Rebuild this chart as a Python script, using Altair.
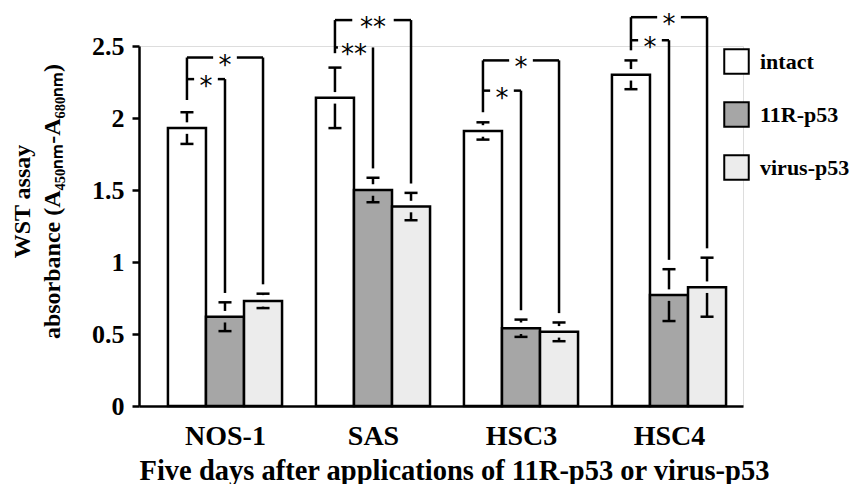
import altair as alt
import pandas as pd

# ---------------- data ----------------
groups = ["NOS-1", "SAS", "HSC3", "HSC4"]
series = ["intact", "11R-p53", "virus-p53"]

intact = [1.93, 2.14, 1.91, 2.30]
intact_err = [0.11, 0.21, 0.06, 0.10]
r11 = [0.62, 1.50, 0.54, 0.77]
r11_err = [0.10, 0.085, 0.06, 0.18]
virus = [0.73, 1.385, 0.515, 0.825]
virus_err = [0.05, 0.095, 0.065, 0.205]

# significance brackets (intact vs 11R-p53 = inner, intact vs virus-p53 = outer)
inner_top = [2.27, 2.49, 2.19, 2.54]
outer_top = [2.42, 2.68, 2.40, 2.70]
left_bottom = [2.125, 2.45, 2.04, 2.47]
inner_sig = ["*", "**", "*", "*"]
outer_sig = ["*", "**", "*", "*"]

y_ticks = [0, 0.5, 1, 1.5, 2, 2.5]

# ---------------- style constants ----------------
BW = 0.257        # bar width in group units
CAP = 0.044       # half width of error caps
GAP_ERR = 0.04    # gap between bar top and error whisker
GAP_BR = 0.065    # gap between error cap and bracket leg
FONT = "Liberation Serif"
fills = ["#ffffff", "#a6a6a6", "#ececec"]

means = [intact, r11, virus]
errs = [intact_err, r11_err, virus_err]

bar_rows, line_rows, text_rows = [], [], []
for i, g in enumerate(groups):
    for j, s in enumerate(series):
        c = i + (j - 1) * BW
        v = means[j][i]
        e = errs[j][i]
        bar_rows.append({"group": g, "series": s, "x0": c - BW / 2, "x1": c + BW / 2, "v": v, "zero": 0})
        if e > GAP_ERR:
            line_rows.append({"x": c, "x2": c, "y": v + GAP_ERR, "y2": v + e})
            line_rows.append({"x": c, "x2": c, "y": v - GAP_ERR, "y2": v - e})
        line_rows.append({"x": c - CAP, "x2": c + CAP, "y": v + e, "y2": v + e})
        line_rows.append({"x": c - CAP, "x2": c + CAP, "y": v - e, "y2": v - e})
    lx = i - BW
    # shared left leg
    line_rows.append({"x": lx, "x2": lx, "y": outer_top[i], "y2": left_bottom[i]})
    for j, top, sig in [(1, inner_top[i], inner_sig[i]), (2, outer_top[i], outer_sig[i])]:
        rx = i + (j - 1) * BW
        cap_top = means[j][i] + errs[j][i]
        line_rows.append({"x": rx, "x2": rx, "y": top, "y2": cap_top + GAP_BR})
        mid = (lx + rx) / 2
        hg = 0.08 if len(sig) == 1 else 0.14
        if mid - hg > lx:
            line_rows.append({"x": lx, "x2": mid - hg, "y": top, "y2": top})
        else:
            line_rows.append({"x": lx, "x2": lx + 0.02, "y": top, "y2": top})
        if mid + hg < rx:
            line_rows.append({"x": mid + hg, "x2": rx, "y": top, "y2": top})
        text_rows.append({"x": mid, "y": top, "t": sig})

bars_df = pd.DataFrame(bar_rows)
lines_df = pd.DataFrame(line_rows)
text_df = pd.DataFrame(text_rows)

label_expr = "[" + ",".join("'" + g + "'" for g in groups) + "][datum.value]"

xscale = alt.Scale(domain=[-0.581, 3.5], nice=False, zero=False)
yscale = alt.Scale(domain=[0, 2.5], nice=False)

xaxis = alt.Axis(
    values=[0, 1, 2, 3], labelExpr=label_expr, ticks=False, tickSize=0, grid=False,
    labelFont=FONT, labelFontWeight="bold", labelFontSize=28, labelPadding=16,
    labelColor="black", domainColor="black", domainWidth=2.5,
    title="Five days after applications of 11R-p53 or virus-p53",
    titleFont=FONT, titleFontWeight="bold", titleFontSize=28.5, titleColor="black",
    titleBaseline="alphabetic", titleY=73, titleX=315,
)
yaxis = alt.Axis(
    values=y_ticks, format="~g", grid=False,
    labelFont=FONT, labelFontWeight="bold", labelFontSize=26, labelPadding=8,
    labelColor="black", tickColor="black", tickSize=7, tickWidth=2.5,
    domainColor="black", domainWidth=2.5,
    title=["WST assay", "absorbance (A\u2084\u2085\u2080\u2099\u2098-A\u2086\u2088\u2080\u2099\u2098)"],
    titleFont=FONT, titleFontWeight="bold", titleFontSize=24, titleColor="black",
    titleLineHeight=30, titleBaseline="alphabetic", titleAngle=270,
    titleX=-110, titleY=155,
)


def X(f):
    return alt.X(f, type="quantitative", scale=xscale, axis=xaxis)


def Y(f):
    return alt.Y(f, type="quantitative", scale=yscale, axis=yaxis)


bars = alt.Chart(bars_df).mark_rect(stroke="black", strokeWidth=2.5).encode(
    x=X("x0"), x2="x1", y=Y("v"), y2="zero",
    fill=alt.Fill("series:N", scale=alt.Scale(domain=series, range=fills),
                  legend=alt.Legend(
                      title=None, orient="none", legendX=584, legendY=2,
                      symbolType="square", symbolSize=600, symbolStrokeColor="black",
                      symbolStrokeWidth=2, symbolOpacity=1,
                      labelFont=FONT, labelFontWeight="bold", labelFontSize=22,
                      labelColor="black", labelOffset=10, rowPadding=20, padding=0,
                  )),
)

lines = alt.Chart(lines_df).mark_rule(color="black", strokeWidth=2.5).encode(
    x=X("x"), x2="x2", y=Y("y"), y2="y2"
)

stars = alt.Chart(text_df).mark_text(
    font="DejaVu Sans", fontSize=26, fill="black", color="black",
    baseline="alphabetic", dy=16
).encode(x=X("x"), y=Y("y"), text="t:N")

chart = alt.layer(bars, lines, stars).properties(
    width=604, height=360,
    padding={"left": 131, "top": 38, "right": 107, "bottom": 78},
    autosize=alt.AutoSizeParams(type="none"),
).configure_view(stroke=None).configure(background="white")

chart.save("out.html", embed_options={"renderer": "svg", "actions": False})
